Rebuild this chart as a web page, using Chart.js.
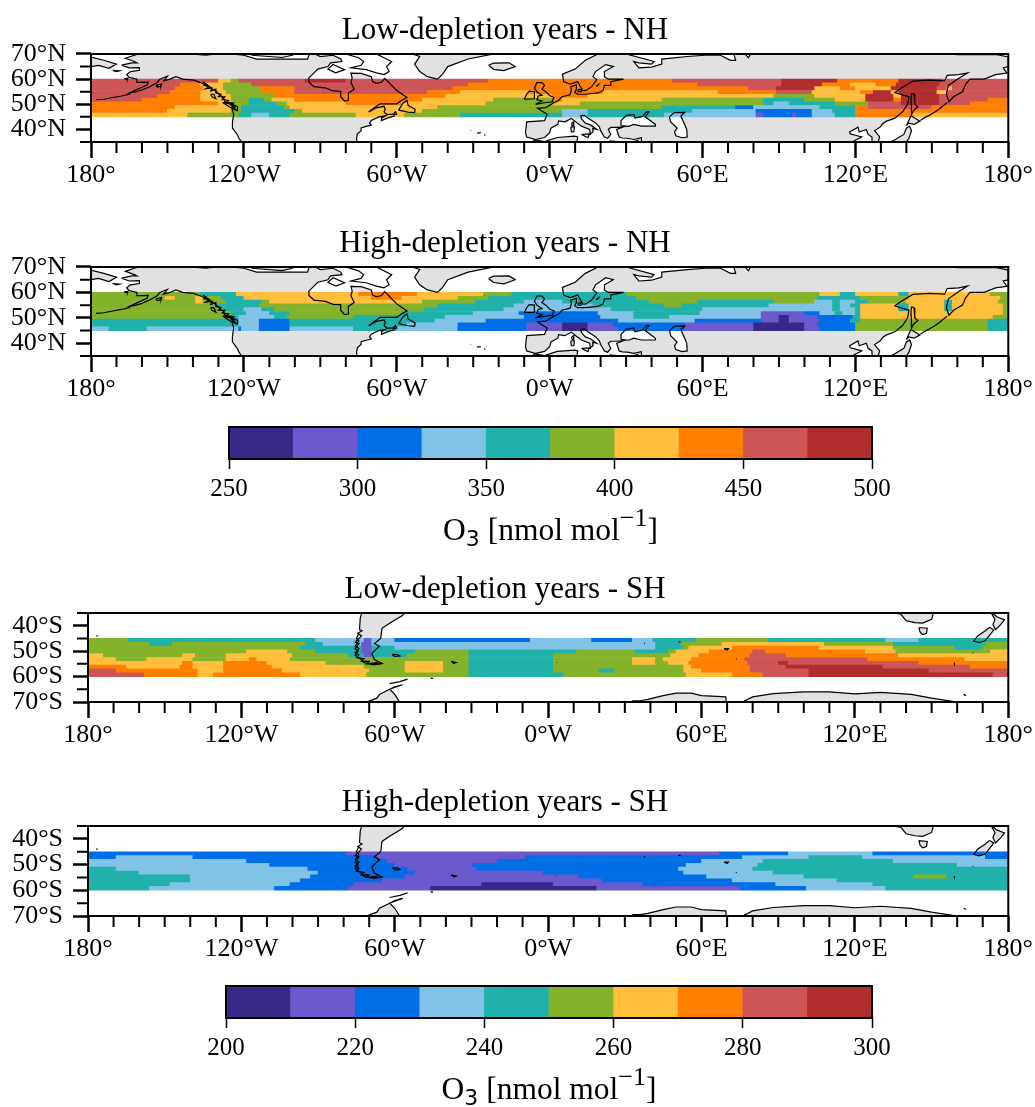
<!DOCTYPE html>
<html>
<head>
<meta charset="utf-8">
<title>O3 maps</title>
<script src="https://cdn.jsdelivr.net/npm/chart.js@4/dist/chart.umd.min.js"></script>
<style>
body { margin: 0; background: #fff; }
canvas { position: absolute; left: 0; }
</style>
</head>
<body>
<canvas id="map1"></canvas>
<canvas id="map2"></canvas>
<canvas id="bar1"></canvas>
<canvas id="map3"></canvas>
<canvas id="map4"></canvas>
<canvas id="bar2"></canvas>
<script>
// colour bar levels and their colours
const nhLevels = [250, 275, 300, 325, 350, 375, 400, 425, 450, 475, 500];
const shLevels = [200, 210, 220, 230, 240, 250, 260, 270, 280, 290, 300];
const bandColors = ['#372a87', '#6a5acd', '#006ee6', '#80c3e6', '#20b2aa', '#85b22b', '#ffbe3c', '#ff7f00', '#cd5555', '#b22d2d'];

const lonTicks = [-180, -120, -60, 0, 60, 120, 180];
const lonLabels = ['180°', '120°W', '60°W', '0°W', '60°E', '120°E', '180°'];
const lonMinor = [-170, -160, -150, -140, -130, -110, -100, -90, -80, -70, -50, -40, -30, -20, -10, 10, 20, 30, 40, 50, 70, 80, 90, 100, 110, 130, 140, 150, 160, 170];
const nhLatTicks = [40, 50, 60, 70];
const nhLatLabels = ['40°N', '50°N', '60°N', '70°N'];
const nhLatMinor = [35, 45, 55, 65];
const shLatTicks = [-70, -60, -50, -40];
const shLatLabels = ['70°S', '60°S', '50°S', '40°S'];
const shLatMinor = [-65, -55, -45, -35];

// each row: lon where a run starts, O3 value of the run, lon, value ...
const nhRowLats = [59.25, 57.75, 56.25, 54.75, 53.25, 51.75, 50.25, 48.75, 47.25, 45.75];
const shRowLats = [-45.75, -47.25, -48.75, -50.25, -51.75, -53.25, -54.75, -56.25, -57.75, -59.25];

const lowNhRows = [
	[-180,462,-130,412,-125,387,-122,462,-96,487,-80,462,-24,437,48,462,91,487,113,437,137,487,154,462],
	[-180,462,-145,437,-137,412,-128,387,-117,462,-32,437,58,462,91,487,107,437,118,412,128,437,136,487,153,462],
	[-180,462,-147,437,-136,412,-128,387,-114,437,-100,462,-38,437,78,462,89,487,104,412,114,437,120,412,134,487,152,462,156,412,158,462],
	[-180,462,-149,437,-137,412,-127,387,-113,437,-100,462,-48,437,-35,412,-8,437,21,412,66,437,89,462,103,412,122,437,127,487,134,412,137,487,152,412,156,462],
	[-180,462,-154,437,-137,412,-125,387,-108,437,-41,412,1,437,15,412,88,387,104,412,124,487,135,412,138,487,153,462],
	[-180,462,-160,437,-137,412,-125,387,-118,362,-112,387,-109,412,-100,437,-50,412,-22,387,1,437,5,412,44,387,84,362,100,387,112,412,124,487,135,437,138,487,153,462,172,437],
	[-180,437,-130,412,-124,387,-118,362,-107,387,-103,412,-80,437,-58,412,-25,387,1,412,12,387,84,362,88,337,94,362,112,387,125,462,138,487,153,462,165,437],
	[-180,437,-147,412,-125,387,-121,362,-104,387,-102,412,-44,387,44,362,73,312,80,337,106,362,120,437,125,462,150,437],
	[-180,437,-150,412,-125,387,-121,362,-100,387,-97,412,-50,387,5,337,15,362,56,337,81,312,103,337,111,362,120,437],
	[-180,412,-142,387,-122,362,-117,337,-110,362,-102,387,-76,412,-57,387,-35,362,5,337,15,362,45,337,81,287,84,312,95,287,97,312,103,337,112,362,120,437,143,412]
];
const highNhRows = [
	[-180,387,-137,362,-123,412,-75,437,-52,412,-26,387,-15,362,30,387,106,412,114,362,120,412,137,362,141,412,173,387],
	[-180,387,-151,412,-147,387,-139,412,-136,387,-129,362,-120,412,-70,437,-58,412,-36,387,-24,362,34,387,105,362,122,387,141,412,177,387],
	[-180,387,-139,412,-136,387,-127,362,-113,387,-110,412,-50,387,-29,362,-10,337,5,362,39,387,58,362,88,387,104,337,111,362,114,337,120,362,125,387,140,412,155,362,158,412,176,387],
	[-180,387,-130,362,-114,387,-44,362,-14,337,17,362,45,387,52,362,86,337,111,362,114,337,118,362,122,412,137,362,141,412,155,362,158,412,178,387],
	[-180,387,-128,362,-120,337,-113,362,-108,387,-49,362,-18,337,24,362,60,337,111,362,114,337,120,362,122,412,137,362,141,412,155,362,158,412,178,387],
	[-180,387,-125,362,-119,337,-110,362,-102,387,-58,362,-30,337,-12,312,19,337,33,362,59,337,83,287,100,312,106,337,112,362,115,337,120,362,122,412,178,387],
	[-180,387,-125,362,-122,337,-108,362,-103,387,-77,362,-41,337,-10,312,20,337,33,362,47,337,83,287,90,262,94,287,105,312,119,362,122,412,174,387],
	[-180,362,-122,337,-114,312,-102,362,-45,337,-25,312,27,337,57,312,83,287,90,262,94,287,106,312,118,362,122,387,172,362],
	[-180,362,-122,337,-114,312,-102,362,-56,337,-36,312,-9,287,5,262,15,287,25,312,53,287,80,262,100,287,105,312,120,387,172,362],
	[-180,337,-173,362,-158,337,-122,312,-121,337,-114,312,-102,337,-77,362,-60,337,-36,312,-9,287,5,262,15,287,27,312,53,287,80,262,100,287,106,312,120,387,172,362]
];
const lowShRows = [
	[-180,255,-164,245,-91,235,-72,215,-69,235,-60,225,-7,235,17,225,33,235,41,245,58,255,86,245,132,235,145,245],
	[-180,255,-156,245,-147,255,-95,245,-88,235,-73,215,-69,235,42,245,52,255,68,265,108,255,135,245,171,255],
	[-180,255,-97,245,-73,215,-69,245,-60,235,42,245,53,255,55,265,72,275,106,265,135,255,159,245,170,255],
	[-180,255,-118,265,-102,255,-91,245,-73,215,-69,245,-52,255,-31,245,11,255,34,245,47,255,50,265,63,275,80,285,85,275,124,265,136,255,173,265],
	[-180,265,-174,255,-143,265,-138,255,-126,265,-100,255,-78,245,-72,215,-69,245,-55,255,-31,245,2,255,48,265,59,275,79,285,93,275,137,265],
	[-180,265,-169,255,-157,265,-139,255,-126,265,-117,275,-114,265,-101,255,-31,245,2,255,33,265,42,255,45,265,56,275,77,285,125,275,163,265],
	[-180,265,-143,275,-139,265,-127,275,-110,265,-87,255,-56,265,-41,255,-31,245,2,255,33,265,42,255,47,265,55,275,78,285,90,295,94,285,145,275],
	[-180,275,-165,265,-144,275,-139,265,-127,275,-108,265,-72,255,-56,265,-41,255,-31,245,2,255,53,265,56,275,79,285,93,295,131,285,165,275],
	[-180,285,-169,275,-137,265,-127,275,-104,265,-70,255,-56,265,-41,255,-31,245,2,255,20,245,26,255,53,265,60,275,79,285,102,295,149,285],
	[-180,285,-158,275,-137,265,-131,275,-97,265,-71,255,-31,245,6,255,54,265,72,275,84,285,102,295,174,285]
];
const highShRows = [
	[-180,225,-79,215,67,225,94,235,127,225],
	[-180,225,-169,235,-139,225,-67,215,-9,225,76,235,102,245,123,235,171,225],
	[-180,235,-118,225,-63,215,-20,225,60,235,84,245,135,235],
	[-180,235,-109,225,-60,215,-30,225,54,235,82,245,160,235],
	[-180,245,-169,235,-94,225,-55,215,-28,225,51,235,80,245],
	[-180,245,-160,235,-90,225,-52,215,-2,225,53,235,88,245],
	[-180,245,-140,235,-93,225,-56,215,12,225,62,235,100,245,143,255,156,245],
	[-180,245,-140,235,-97,225,-65,215,21,225,72,235,113,245],
	[-180,245,-148,235,-101,225,-76,215,-26,205,2,215,37,225,89,235,127,245],
	[-180,245,-156,235,-107,225,-78,215,-46,205,19,215,75,225,101,235,132,245]
];

// land outlines, lon/lat pairs
const northAmerica = [-168,65.6,-164,66.5,-162,66.5,-163,67,-166.5,68.3,-163,69.5,-156.5,71.3,-141,70,-135,69.5,-128,70.3,-120,69.5,-115,68,-108,68,-100,68,-95,68,-94,71,-90,69,-85,69.5,-82,68,-81.5,67,-86,66.5,-87,65,-91,64,-92.5,62.5,-94.5,60.5,-94.5,58.8,-92.5,57,-88,56.5,-85,55.3,-82,55.2,-82,53,-80.5,51.3,-79,51.5,-79,54.5,-76.7,56,-78,58.7,-77.5,60.5,-78,62.4,-74,62.3,-70,61,-69.5,59,-68,58.3,-66,58.8,-64.7,60.3,-62,57.5,-60,55.5,-56,52.7,-58.5,51.3,-60,50.2,-66.5,50.2,-69,48.5,-71,46.9,-68,48.6,-65,49.2,-64.5,48,-65,47,-64,46,-61,46,-61,45.3,-63.5,44.6,-66,43.5,-66,44.5,-64.5,45.4,-67,45,-70,43.6,-70.7,42.6,-70,41.7,-72,41.2,-74,40.6,-74,39.5,-75.5,38.2,-75.8,36,-75.5,35.2,-77,34,-80,30,-118,30,-120.5,34.5,-122,36.6,-122.5,37.8,-124.4,40.4,-124.5,42.8,-124,46,-124.7,48.4,-122.7,47.5,-122.5,49,-125,50.3,-127.5,51,-128,52.5,-130,54.3,-131,55.3,-133,56.5,-135.5,58,-137,58.6,-139.7,59.6,-144,60,-146.7,61,-149,60,-151.5,59.3,-150,61.2,-153,60,-154,58.7,-157,57,-160,55.7,-163,54.8,-164.8,54.6,-162,55.9,-158,57.7,-157.5,58.8,-162,58.7,-162,60,-165,60.7,-166,61.8,-164.5,63,-161,63.5,-161,64.6,-165,64.5];
const baffin = [-65,61.8,-68,62.5,-72,63.8,-78,64.5,-74,65.5,-73,67,-75,68.5,-80,70,-88,71,-88,74,-80,74,-70,71,-62,67,-64,65,-63,63];
const southampton = [-84,62.5,-80.5,63.8,-85,65.8,-87,64];
const victoria = [-117,69.5,-105,68.6,-101,69.5,-105,73,-117,73];
const newfoundland = [-59.3,47.7,-55.5,46.9,-53,46.7,-52.8,48,-55.5,49.5,-56,51.5,-57.5,50.5];
const capeBreton = [-61.5,46,-60.5,47,-60,46];
const vancouverIsland = [-128.3,50.7,-125.3,50,-123.5,48.4,-125.5,48.8];
const haidaGwaii = [-133,54,-131.8,54,-131,52.2,-132.5,53];
const kodiak = [-154.5,57.5,-152.3,58,-152.5,57.2,-154,56.8];
const nunivak = [-167,60.2,-165.5,60.4,-165.7,59.8];
const stLawrence = [-171.5,63.5,-168.8,63.3,-170,63];
const greenland = [-44,60,-42,62,-40,65,-32,68,-22,70,-20,75,-60,75,-54,70,-51,69,-53,66,-51,63,-48,61];
const iceland = [-24,65.5,-22,66.4,-16,66.5,-13.5,65,-18,63.4,-22,63.9];
const eurasia = [-5.5,36,-9,37,-9.5,38.7,-9,43,-2,43.5,-1,46,-4.8,48.4,-1.5,48.7,1.5,50.5,3.5,51.5,4.8,53,8,53.8,8.5,55.5,8.3,57,10.5,57.7,10.5,56,9.8,54.8,11,54,14,54,19,54.5,21,55.5,21.5,57.5,24,57.5,24,59,29,60,23,60,21.5,61,21.5,63,25,65,22,65.8,18,63,17,61,18.5,59.8,16.5,57,14.3,55.5,13,55.4,11,59,8,58,5.5,59,5,62,10,64,14,67.5,19,70,24,71,30,70,41,67,40,66,35,66.5,33,67,35,64.5,40,64.8,44,66,44,68,54,69,61,69.5,67,69.5,71,67.5,73,67.5,72,71,75,72,78,68.5,80,72,110,76,140,73,160,69.7,175,69.8,180,68.8,180,65,178,64.5,179.5,62.4,175,61.8,170.5,60,165,60,163.3,58,162,55,158.5,53,156.7,51,155.7,54,156.5,57.5,160,60,164,62.5,160.5,61.8,156,61.5,155,59.3,149,59.6,142.5,59.2,138,56.5,135.5,54.7,137.5,54,141,53,140.5,50,138.5,47,135.5,44.5,132,43.2,130.7,42.3,129.8,41,127.5,39.5,129.5,37,129,35.2,126.3,34.5,126.5,37,125,38,124.3,40,121.5,39,121,40.9,117.7,39,118,38.2,120,37.7,122.5,37,120.5,36,119,35.2,120,34.5,122,31,120,30,36,30,36,36.7,33,36,30.5,36.5,28.5,36.6,27.3,37,26.8,38.5,26.3,40,29,41,27.5,40.9,26,40.8,24,40.8,23,40,24,38,22.8,36.5,21.5,37,20,39.5,19.5,41,18,42.6,15,44.5,13.7,45.6,12.3,45.5,12.4,44.3,14,42.5,16,41.8,18.5,40,16.9,40.4,17,39,15.6,38,16,38,15.7,40,12.5,41.3,10.5,42.8,8.5,44.4,6,43,3.5,43.4,3.2,42,0.5,40.5,0,38.7,-2,36.8];
const chukotka = [-180,65,-177,65.5,-173,64.3,-170,66,-175,67.5,-180,68.8];
const africa = [-10,30,-9,33,-6,35.8,-2,35.2,3,36.8,9.8,37.3,11,37,10.5,34,11,30];
const blackSea = [28,41.5,28,43.5,30,45.5,33,46,33.5,44.5,36.5,45.2,38,47,39,47,37.5,45,41.5,42,41.5,41.3,36,41.3,33,42,31,41.2];
const caspian = [47,45,49,46.7,53,46.8,51.5,45.3,53,42,53.8,40,54,37,52,36.7,49.5,37.5,49,39,50,40.5,47.5,43];
const ireland = [-10,52,-9,54,-8,55.2,-6,55,-6,52.2];
const britain = [-5.5,50,-3,51.3,-5,51.8,-4.5,53.3,-3,53.6,-5,55,-6,56.5,-5,58.6,-3,58.6,-2,57.5,-3,56,-1.5,55,0,53.5,1.7,52.7,1,51.3,1.3,51,-2,50.6];
const sicily = [12.5,38,15.6,38.2,15,36.7];
const sardinia = [8.3,41,9.7,41,9.5,39.1,8.5,39];
const corsica = [8.6,42.5,9.5,43,9.4,41.5,8.8,41.6];
const crete = [23.5,35.5,26.3,35.2,24.5,35];
const cyprus = [32.3,35,34.5,35.6,33.5,34.7];
const gotland = [18.2,57.2,19.2,57.9,18.8,57.3];
const zealand = [11,55.7,12.5,56,12.3,55,11.2,55];
const sakhalin = [142,54.3,143,54,143.3,50,144.5,49,142.8,47.5,142,46,142,49,141.8,52];
const hokkaido = [140,41.5,141.8,45.4,145.3,43.3,143,42,141,42.5];
const honshu = [130.9,34,135,35.6,139,38,140,40.5,141.3,41.3,142,39.5,141,36.5,140,35,136.8,34.5,132,33.9];
const nhLand = [northAmerica, victoria, newfoundland, capeBreton, vancouverIsland, haidaGwaii, kodiak, nunivak, stLawrence, greenland, iceland, eurasia, chukotka, africa, ireland, britain, sicily, sardinia, corsica, crete, cyprus, gotland, zealand, sakhalin, hokkaido, honshu];
const nhWater = [blackSea, caspian, baffin, southampton];

// lines only: island chains and fjords
const aleutians = [-178,51.8,-175,52,-172,52.6,-168,53.3,-165,54,-164.8,54.6];
const kuriles = [145.5,43.6,147,44.6,149,45.6,151,46.8,153,48.2,154.5,49.5,156,50.6];
const bcFjords = [-136,59,-134,57.5,-136,57.6,-133.5,57,-135,56.2,-132.5,56.5,-133,55.3,-131,56,-131,54.5,-129,54,-130,53,-127.5,53,-128.5,52,-126,51.5,-127,50.8,-124,50.5,-125,49.5,-123,49.3];
const azores = [-31,39.5,-30.8,39.6,null,null,-28.5,38.5,-27,38.7,null,null,-25.7,37.7,-25.2,37.8];
const nhLines = [aleutians, kuriles, bcFjords, azores];

const patagonia = [-71.5,-30,-73.5,-37,-73.8,-41.5,-72.8,-42,-74.5,-43,-73,-44,-75.5,-46.5,-74,-47,-75.5,-49,-74.3,-50,-75.5,-51.5,-73.5,-53,-72,-54.5,-69,-55.3,-65,-54.8,-68,-53.3,-68.3,-52.5,-69,-51,-66,-48,-68,-47,-65.5,-45,-65,-41,-62,-39,-57,-36,-54,-32,-60,-28];
const falkland = [-61,-51.3,-59,-51.4,-58,-51.9,-60,-52.2];
const georgia = [-38,-54,-36,-54.5,-37,-54.8];
const antPeninsula = [-57,-63.2,-60,-64,-63,-65.5,-66,-67,-67,-68.5,-71,-70,-72,-75,-55,-75,-60,-67,-62,-65];
const antEast1 = [33,-69.5,36,-69.5,39,-69,45,-67.5,50,-66.5,56,-66.5,60,-67.5,69.5,-68,70,-75,33,-75];
const antEast2 = [76,-70,80,-68,88,-66.7,100,-66,110,-66,120,-66.8,130,-66.2,142,-67,150,-68.5,160,-70,165,-75,76,-75];
const australia = [130,-31,135,-35,138,-35.5,140,-38,143.5,-38.8,146.5,-39,150,-37.5,151,-34,153,-30];
const tasmania = [145,-40.7,148.3,-41,148,-43,146.5,-43.5,145.5,-42.5];
const southIsland = [172.7,-40.6,174.3,-41.7,172.7,-43.7,171,-45.9,168.5,-46.6,166.5,-46,168,-44,171,-42];
const northIsland = [173,-34.5,175.5,-36.5,178.5,-37.7,177,-39.6,175,-41.6,174,-39.5,174.8,-37.5];
const kerguelen = [68.8,-49,70.5,-49,70,-49.6];
const shLand = [patagonia, falkland, georgia, antPeninsula, antEast1, antEast2, australia, tasmania, southIsland, northIsland, kerguelen];
const shetlands = [-62,-62.8,-58,-62,-55,-61];
const orkneys = [-46,-60.6,-45,-60.7];
const patagoniaFjords = [-74,-43,-75,-45,-74,-46,-75.5,-48,-74,-49,-75.5,-50.5,-74,-51.5,-75,-52.5,-72,-53,-73,-54,-70,-54,-71,-55,-67,-54.5,-68,-55.3,-65,-54.9];
const smallIslands = [-176.8,-44,-176.2,-44,null,null,37.5,-46.9,37.9,-46.9,null,null,51,-46.4,51.8,-46.4,null,null,73.4,-53,73.8,-53.1,null,null,158.8,-54.5,158.9,-54.8,null,null,166,-50.7,166.3,-50.7,null,null,169,-52.5,169.2,-52.5,null,null,162.5,-67,163.5,-67.5,null,null,3.3,-54.4,3.5,-54.4];
const shLines = [shetlands, orkneys, patagoniaFjords, smallIslands];

const SERIF = '"Liberation Serif", "Times New Roman", serif';
const LAND = '#e1e1e1';

const pairs = (flat) => {
	const out = [];
	for (let i = 0; i < flat.length; i += 2) {
		out.push({x: flat[i] === null ? NaN : flat[i], y: flat[i + 1] === null ? NaN : flat[i + 1]});
	}
	return out;
};

const bandColor = (v, levels) => {
	for (let i = 0; i < levels.length - 1; i++) {
		if (v >= levels[i] && v < levels[i + 1]) return bandColors[i];
	}
	return bandColors[bandColors.length - 1];
};

const rowsToBars = (rows, lats) => {
	const bars = [];
	rows.forEach((row, r) => {
		for (let i = 0; i < row.length; i += 2) {
			const end = i + 2 < row.length ? row[i + 2] : 180;
			bars.push({y: lats[r], x: [row[i], end], v: row[i + 1]});
		}
	});
	return bars;
};

const shapeSet = (flat, fill, order) => ({
	type: 'line', data: pairs(flat), order: order, fill: 'shape', backgroundColor: fill,
	borderWidth: 0, pointRadius: 0, tension: 0
});
const lineSet = (flat, closed) => {
	const pts = pairs(flat);
	if (closed) pts.push(pts[0]);
	return {type: 'line', data: pts, order: 1, fill: false, borderColor: '#000', borderWidth: 1.2, pointRadius: 0, tension: 0};
};

// frame on all four sides and the short ticks the scale can't do
const frameTicks = (xMinor, yMinor, minorLen) => ({
	id: 'frameTicks',
	afterDraw(chart) {
		const {ctx, chartArea: a, scales} = chart;
		ctx.save();
		ctx.strokeStyle = '#000';
		ctx.lineWidth = 2;
		ctx.beginPath();
		xMinor.forEach(v => {
			const p = scales.x.getPixelForValue(v);
			ctx.moveTo(p, a.bottom);
			ctx.lineTo(p, a.bottom + minorLen);
		});
		yMinor.forEach(v => {
			const p = scales.y.getPixelForValue(v);
			ctx.moveTo(a.left, p);
			ctx.lineTo(a.left - minorLen, p);
		});
		ctx.stroke();
		ctx.strokeRect(a.left, a.top, a.right - a.left, a.bottom - a.top);
		ctx.restore();
	}
});

// O3 [nmol mol-1] with a sub and superscript of the right size
const unitPieces = [
	{text: 'O', font: '31.5px ' + SERIF, dy: 0},
	{text: '3', font: '22px "DejaVu Sans"', dy: 6},
	{text: ' [nmol mol', font: '31.5px ' + SERIF, dy: 0},
	{text: '−1', font: '26px ' + SERIF, dy: -14},
	{text: ']', font: '31.5px ' + SERIF, dy: 0}
];
const unitLabel = (baselineGap) => ({
	id: 'unitLabel',
	afterDraw(chart) {
		const {ctx, chartArea: a} = chart;
		ctx.save();
		ctx.fillStyle = '#000';
		ctx.textBaseline = 'alphabetic';
		ctx.textAlign = 'left';
		let width = 0;
		unitPieces.forEach(p => {
			ctx.font = p.font;
			width += ctx.measureText(p.text).width;
		});
		let x = (a.left + a.right) / 2 - width / 2;
		unitPieces.forEach(p => {
			ctx.font = p.font;
			ctx.fillText(p.text, x, a.bottom + baselineGap + p.dy);
			x += ctx.measureText(p.text).width;
		});
		ctx.restore();
	}
});

const TITLE_H = 42;
const AXIS_H = 50;

const makeMap = (id, plotTop, plotH, left, title, rows, rowLats, levels, land, water, lines, latTicks, latLabels, latMinor, latMin, latMax) => {
	const canvas = document.getElementById(id);
	canvas.width = 1035;
	canvas.height = TITLE_H + plotH + AXIS_H;
	canvas.style.top = (plotTop - TITLE_H) + 'px';

	const datasets = [{
		type: 'bar', indexAxis: 'y', data: rowsToBars(rows, rowLats), order: 2,
		barPercentage: 1, categoryPercentage: 1, borderWidth: 0,
		backgroundColor: c => bandColor(c.raw.v, levels)
	}];
	land.forEach(p => datasets.push(shapeSet(p, LAND, 4)));
	water.forEach(p => datasets.push(shapeSet(p, '#fff', 3)));
	land.concat(water).forEach(p => datasets.push(lineSet(p, true)));
	lines.forEach(p => datasets.push(lineSet(p, false)));

	new Chart(canvas, {
		type: 'bar',
		data: {datasets: datasets},
		plugins: [frameTicks(lonMinor, latMinor, 11)],
		options: {
			responsive: false,
			animation: false,
			layout: {autoPadding: false, padding: {left: 0, right: 25, top: 0, bottom: 0}},
			plugins: {
				legend: {display: false},
				tooltip: {enabled: false},
				title: {display: true, text: title, color: '#000', font: {family: SERIF, size: 31, weight: 'normal'}, padding: {top: 0, bottom: 4.8}}
			},
			scales: {
				x: {
					type: 'linear', min: -180, max: 180, offset: false, beginAtZero: false,
					afterBuildTicks: s => { s.ticks = lonTicks.map(v => ({value: v})); },
					afterFit: s => { s.height = AXIS_H; },
					grid: {drawOnChartArea: false, offset: false, tickLength: 16, tickWidth: 2.5, tickColor: '#000'},
					border: {display: false},
					ticks: {
						autoSkip: false, maxRotation: 0, color: '#000', padding: 2,
						font: {family: SERIF, size: 26},
						callback: v => lonLabels[lonTicks.indexOf(v)]
					}
				},
				y: {
					type: 'linear', min: latMin, max: latMax, offset: false, beginAtZero: false,
					afterBuildTicks: s => { s.ticks = latTicks.map(v => ({value: v})); },
					afterFit: s => { s.width = left; },
					grid: {drawOnChartArea: false, offset: false, tickLength: 15, tickWidth: 2.5, tickColor: '#000'},
					border: {display: false},
					ticks: {
						autoSkip: false, color: '#000', padding: 10,
						font: {family: SERIF, size: 26},
						callback: v => latLabels[latTicks.indexOf(v)]
					}
				}
			}
		}
	});
};

const makeBar = (id, plotTop, plotH, left, right, levels, tickValues) => {
	const canvas = document.getElementById(id);
	canvas.width = 1035;
	canvas.height = plotH + 100;
	canvas.style.top = (plotTop - 2) + 'px';
	const bars = [];
	for (let i = 0; i < levels.length - 1; i++) {
		bars.push({x: (levels[i] + levels[i + 1]) / 2, y: 1});
	}
	new Chart(canvas, {
		type: 'bar',
		data: {datasets: [{data: bars, backgroundColor: bandColors, barPercentage: 1, categoryPercentage: 1, borderWidth: 0}]},
		plugins: [frameTicks([], [], 0), unitLabel(81)],
		options: {
			responsive: false,
			animation: false,
			layout: {autoPadding: false, padding: {left: left, right: 1035 - right, top: 2, bottom: 0}},
			plugins: {legend: {display: false}, tooltip: {enabled: false}},
			scales: {
				x: {
					type: 'linear', min: levels[0], max: levels[levels.length - 1], offset: false, beginAtZero: false,
					afterBuildTicks: s => { s.ticks = tickValues.map(v => ({value: v})); },
					afterFit: s => { s.height = 98; },
					grid: {drawOnChartArea: false, offset: false, tickLength: 10, tickWidth: 1.5, tickColor: '#000'},
					border: {display: false},
					ticks: {autoSkip: false, maxRotation: 0, color: '#000', padding: 5, font: {family: SERIF, size: 25}}
				},
				y: {type: 'linear', min: 0, max: 1, display: false, offset: false}
			}
		}
	});
};

window.onload = () => {
	makeMap('map1', 54, 88, 91, 'Low-depletion years - NH', lowNhRows, nhRowLats, nhLevels, nhLand, nhWater, nhLines, nhLatTicks, nhLatLabels, nhLatMinor, 35, 70);
	makeMap('map2', 267, 89, 91, 'High-depletion years - NH', highNhRows, nhRowLats, nhLevels, nhLand, nhWater, nhLines, nhLatTicks, nhLatLabels, nhLatMinor, 35, 70);
	makeBar('bar1', 427, 32, 229, 872, nhLevels, [250, 300, 350, 400, 450, 500]);
	makeMap('map3', 613, 89, 88, 'Low-depletion years - SH', lowShRows, shRowLats, shLevels, shLand, [], shLines, shLatTicks, shLatLabels, shLatMinor, -70, -35);
	makeMap('map4', 826, 90, 88, 'High-depletion years - SH', highShRows, shRowLats, shLevels, shLand, [], shLines, shLatTicks, shLatLabels, shLatMinor, -70, -35);
	makeBar('bar2', 986, 32, 226, 872, shLevels, [200, 220, 240, 260, 280, 300]);
};
</script>
</body>
</html>
